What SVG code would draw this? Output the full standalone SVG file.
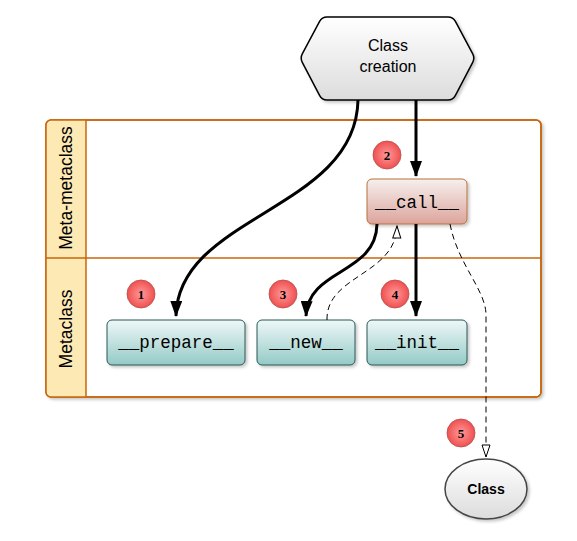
<svg xmlns="http://www.w3.org/2000/svg" width="577" height="541" viewBox="0 0 577 541">
<style>
.lbl{font-family:"Liberation Sans",Arial,sans-serif;fill:#000}
.mono{font-family:"Liberation Mono","DejaVu Sans Mono",monospace;font-size:17.5px;fill:#000;text-anchor:middle}
.teal{fill:url(#gTeal);stroke:#2c5656;stroke-width:1}
.badge{fill:url(#gRed);stroke:#b05050;stroke-width:0.8}
.bnum{font-family:"Liberation Serif",serif;font-weight:bold;font-size:13px;text-anchor:middle;fill:#000}
.solid{fill:none;stroke:#000;stroke-width:3}
.dash{fill:none;stroke:#000;stroke-width:1;stroke-dasharray:6 4}
</style>
<defs>
<linearGradient id="gTeal" x1="0" y1="0" x2="0" y2="1"><stop offset="0" stop-color="#eef8f8"/><stop offset="1" stop-color="#94cac6"/></linearGradient>
<linearGradient id="gPink" x1="0" y1="0" x2="0" y2="1"><stop offset="0" stop-color="#f6f0ee"/><stop offset="1" stop-color="#dca49c"/></linearGradient>
<linearGradient id="gGrey" x1="0" y1="0" x2="0" y2="1"><stop offset="0" stop-color="#ffffff"/><stop offset="1" stop-color="#dcdcdc"/></linearGradient>
<radialGradient id="gRed" cx="0.5" cy="0.5" r="0.5"><stop offset="0" stop-color="#ff9a9a"/><stop offset="1" stop-color="#f05050"/></radialGradient>
<filter id="sh" x="-20%" y="-20%" width="150%" height="150%"><feDropShadow dx="2" dy="2" stdDeviation="1.5" flood-color="#000" flood-opacity="0.22"/></filter>
<marker id="aS" viewBox="0 0 16 12" refX="15" refY="6" markerWidth="16" markerHeight="12" orient="auto" markerUnits="userSpaceOnUse"><path d="M0,0 L16,6 L0,12 z" fill="#000"/></marker>
<marker id="aO" viewBox="0 0 14 10" refX="13" refY="5" markerWidth="14" markerHeight="10" orient="auto" markerUnits="userSpaceOnUse"><path d="M1,1 L13,5 L1,9 z" fill="#fff" stroke="#000" stroke-width="1"/></marker>
</defs>

<g id="pool">
<rect x="46" y="120" width="495" height="277" rx="5" fill="#fff" stroke="#c8650c" stroke-width="1.5" filter="url(#sh)"/>
<path d="M51,120 H86 V397 H51 A5,5 0 0 1 46,392 V125 A5,5 0 0 1 51,120 z" fill="#fde9b4"/>
<rect x="46" y="120" width="495" height="277" rx="5" fill="none" stroke="#c8650c" stroke-width="1.5"/>
<line x1="86" y1="120" x2="86" y2="397" stroke="#c8650c" stroke-width="1.5"/>
<line x1="46" y1="258" x2="541" y2="258" stroke="#c8650c" stroke-width="1.5"/>
<text class="lbl" font-size="17.5" text-anchor="middle" transform="translate(72,188) rotate(-90)">Meta-metaclass</text>
<text class="lbl" font-size="17.5" text-anchor="middle" transform="translate(72,329) rotate(-90)">Metaclass</text>
</g>

<g id="creation">
<path d="M302.4,53.6 L319.6,21.4 Q322,17 327,17 L448,17 Q453,17 455.4,21.4 L472.6,53.6 Q475,58 472.7,62.4 L455.3,95.6 Q453,100 448,100 L327,100 Q322,100 319.7,95.6 L302.3,62.4 Q300,58 302.4,53.6 Z" fill="url(#gGrey)" stroke="#000" stroke-width="1.5" filter="url(#sh)"/>
<text class="lbl" font-size="16" text-anchor="middle" x="388" y="51">Class</text>
<text class="lbl" font-size="16" text-anchor="middle" x="388" y="72">creation</text>
</g>

<g id="call">
<rect x="367" y="179" width="100" height="45" rx="5" fill="url(#gPink)" stroke="#b8703c" stroke-width="1" filter="url(#sh)"/>
<text class="mono" x="417" y="208">__call__</text>
</g>
<g id="prepare">
<rect class="teal" x="107" y="320" width="138" height="45" rx="5" filter="url(#sh)"/>
<text class="mono" x="176" y="348">__prepare__</text>
</g>
<g id="new">
<rect class="teal" x="257" y="320" width="98" height="45" rx="5" filter="url(#sh)"/>
<text class="mono" x="306" y="348">__new__</text>
</g>
<g id="init">
<rect class="teal" x="367" y="320" width="100" height="45" rx="5" filter="url(#sh)"/>
<text class="mono" x="417" y="348">__init__</text>
</g>
<g id="class">
<ellipse cx="486" cy="489" rx="41" ry="30" fill="url(#gGrey)" stroke="#444" stroke-width="1.5" filter="url(#sh)"/>
<text class="lbl" font-size="14" font-weight="bold" text-anchor="middle" x="486" y="494">Class</text>
</g>

<g id="connectors">
<path class="solid" d="M358,100 C356,210 178,215 176,316" marker-end="url(#aS)"/>
<path class="solid" d="M416,100 V176" marker-end="url(#aS)"/>
<path class="solid" d="M377,224 C376,275 308,268 306,316" marker-end="url(#aS)"/>
<path class="dash" d="M327,320 C326,275 396,275 397,226" marker-end="url(#aO)"/>
<path class="solid" d="M416,224 V316" marker-end="url(#aS)"/>
<path class="dash" d="M450,224 C458,265 486,290 486,315 V457" marker-end="url(#aO)"/>
</g>

<g id="badges">
<circle class="badge" cx="141" cy="294" r="14"/><text class="bnum" x="141" y="298.5">1</text>
<circle class="badge" cx="387" cy="155" r="14"/><text class="bnum" x="387" y="159.5">2</text>
<circle class="badge" cx="283" cy="294" r="14"/><text class="bnum" x="283" y="298.5">3</text>
<circle class="badge" cx="395" cy="294" r="14"/><text class="bnum" x="395" y="298.5">4</text>
<circle class="badge" cx="461" cy="433" r="14"/><text class="bnum" x="461" y="437.5">5</text>
</g>
</svg>
